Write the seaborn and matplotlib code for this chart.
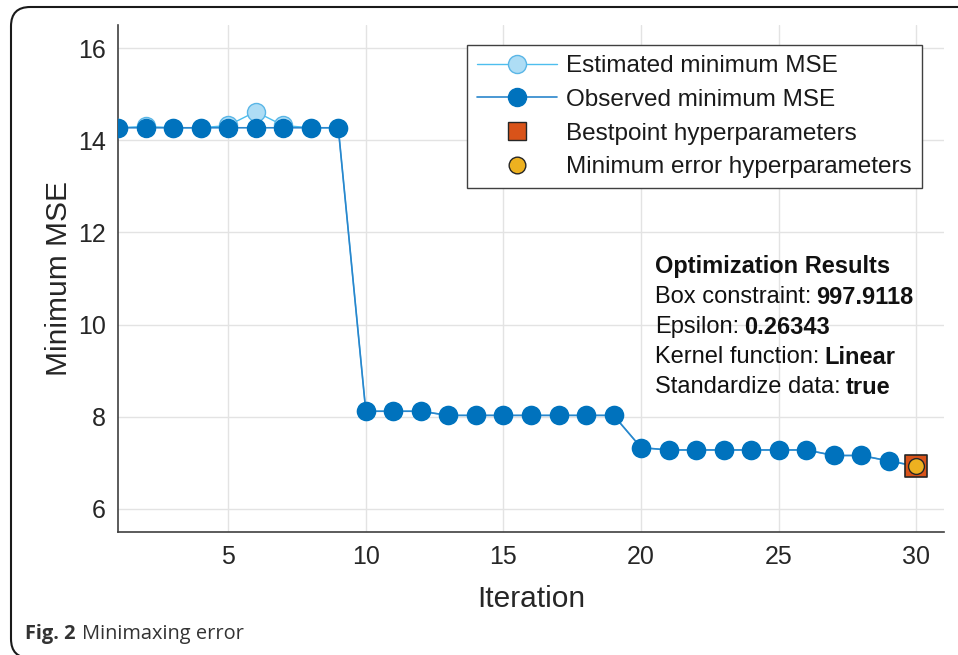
import matplotlib
matplotlib.use("Agg")
import matplotlib.pyplot as plt
import seaborn as sns
import numpy as np
import pandas as pd
from matplotlib.lines import Line2D
from matplotlib.patches import FancyBboxPatch

# ---- data ----
iterations = list(range(1, 31))
observed_mse = [14.27, 14.27, 14.27, 14.27, 14.27, 14.27, 14.27, 14.27, 14.27,
                8.12, 8.12, 8.12, 8.03, 8.03, 8.03, 8.03, 8.03, 8.03, 8.03,
                7.33, 7.28, 7.28, 7.28, 7.28, 7.28, 7.28, 7.16, 7.16, 7.04, 6.93]
estimated_mse = [14.27, 14.30, 14.27, 14.27, 14.32, 14.62, 14.32, 14.27, 14.27,
                 8.12, 8.12, 8.12, 8.03, 8.03, 8.03, 8.03, 8.03, 8.03, 8.03,
                 7.33, 7.28, 7.28, 7.28, 7.28, 7.28, 7.28, 7.16, 7.16, 7.04, 6.93]
best_iter = [30]
best_mse = [6.93]
legend_labels = ["Estimated minimum MSE", "Observed minimum MSE",
                 "Bestpoint hyperparameters", "Minimum error hyperparameters"]
xticks = [5, 10, 15, 20, 25, 30]
yticks = [6, 8, 10, 12, 14, 16]
result_lines = [("Box constraint:", "997.9118"), ("Epsilon:", "0.26343"),
                ("Kernel function:", "Linear"), ("Standardize data:", "true")]

df = pd.DataFrame({"iter": iterations, "obs": observed_mse, "est": estimated_mse})

sns.set_theme(style="whitegrid")
plt.rcParams["font.family"] = ["Liberation Sans", "DejaVu Sans"]

W, H = 958, 655
fig = plt.figure(figsize=(W / 100, H / 100), dpi=100)
fig.patch.set_facecolor("white")
ax = fig.add_axes([118 / W, 1 - 532 / H, (944 - 118) / W, (532 - 25) / H])
ax.set_facecolor("white")

c_obs = "#0072BD"
c_obs_line = "#2A86CC"
c_est_line = "#4DBEEE"
c_est_face = "#AEDDF5"

sns.lineplot(data=df, x="iter", y="est", ax=ax, color=c_est_line, linewidth=1.0,
             marker="o", markersize=13, markerfacecolor=c_est_face,
             markeredgecolor="#5AB6E6", markeredgewidth=1.0, zorder=3)
sns.lineplot(data=df, x="iter", y="obs", ax=ax, color=c_obs_line, linewidth=1.2,
             marker="o", markersize=13, markerfacecolor=c_obs,
             markeredgecolor=c_obs, markeredgewidth=1.0, zorder=4)
sns.scatterplot(x=best_iter, y=best_mse, ax=ax, marker="s", s=250,
                color="#D95319", edgecolor="#262626", linewidth=1.2, zorder=5)
sns.scatterplot(x=best_iter, y=best_mse, ax=ax, marker="o", s=130,
                color="#EDB120", edgecolor="#262626", linewidth=1.0, zorder=6)

ax.set_xlim(1, 31)
ax.set_ylim(5.5, 16.5)
ax.set_xticks(xticks)
ax.set_yticks(yticks)
ax.grid(True, color="#e3e3e3", linewidth=1.0)
for s in ["top", "right"]:
    ax.spines[s].set_visible(False)
for s in ["left", "bottom"]:
    ax.spines[s].set_color("#404040")
    ax.spines[s].set_linewidth(1.2)
ax.tick_params(direction="in", length=7, width=1.0, color="#404040",
               labelsize=18, labelcolor="#262626", pad=9)
ax.set_xlabel("Iteration", fontsize=21.5, color="#262626", labelpad=12)
ax.set_ylabel("Minimum MSE", fontsize=21.5, color="#262626", labelpad=3)

handles = [
    Line2D([], [], color=c_est_line, lw=1.0, marker="o", markersize=13,
           markerfacecolor=c_est_face, markeredgecolor="#5AB6E6"),
    Line2D([], [], color=c_obs_line, lw=1.2, marker="o", markersize=13,
           markerfacecolor=c_obs, markeredgecolor=c_obs),
    Line2D([], [], color="none", marker="s", markersize=13,
           markerfacecolor="#D95319", markeredgecolor="#262626"),
    Line2D([], [], color="none", marker="o", markersize=12,
           markerfacecolor="#EDB120", markeredgecolor="#262626"),
]
leg = ax.legend(handles, legend_labels, loc="upper right",
                bbox_to_anchor=((922 - 118) / 826, (532 - 45) / 507),
                fontsize=17.5, frameon=True, fancybox=False, framealpha=1,
                edgecolor="#404040", handlelength=3.3, handletextpad=0.37,
                borderpad=0.42, labelspacing=0.48, borderaxespad=0)
leg.get_frame().set_linewidth(1.0)
for t in leg.get_texts():
    t.set_color("#1a1a1a")

# Optimization results text
fs = 17
x0 = 655 / W
fig.text(x0, 1 - 266 / H, "Optimization Results", fontsize=fs, fontweight="bold",
         color="#111111", va="center", ha="left")
fig.canvas.draw()
renderer = fig.canvas.get_renderer()
for i, (lab, val) in enumerate(result_lines):
    y = 1 - (297 + i * 30) / H
    t1 = fig.text(x0, y, lab, fontsize=fs, color="#111111", va="center", ha="left")
    bb = t1.get_window_extent(renderer=renderer)
    fig.text((bb.x1 + 5) / W, y, val, fontsize=fs, fontweight="bold", color="#111111",
             va="center", ha="left")

# Caption
cap_font = ["Open Sans", "DejaVu Sans"]
t_fig = fig.text(25 / W, 1 - 634 / H, "Fig. 2", fontsize=14.4, fontweight="bold",
                 family=cap_font, color="#333333", va="center", ha="left")
bb = t_fig.get_window_extent(renderer=renderer)
fig.text((bb.x1 + 6) / W, 1 - 634 / H, "Minimaxing error", fontsize=14.4,
         family=cap_font, color="#333333", va="center", ha="left")

# Border (rounded, right and bottom sides off-canvas)
border = FancyBboxPatch((11 / W, -3 / H), 990 / W, (H - 7 + 3) / H,
                        boxstyle="round,pad=0,rounding_size=0.02",
                        transform=fig.transFigure, fill=False,
                        edgecolor="#1a1a1a", linewidth=1.5, mutation_aspect=W / H)
fig.patches.append(border)

fig.savefig("out.png", dpi=100)
